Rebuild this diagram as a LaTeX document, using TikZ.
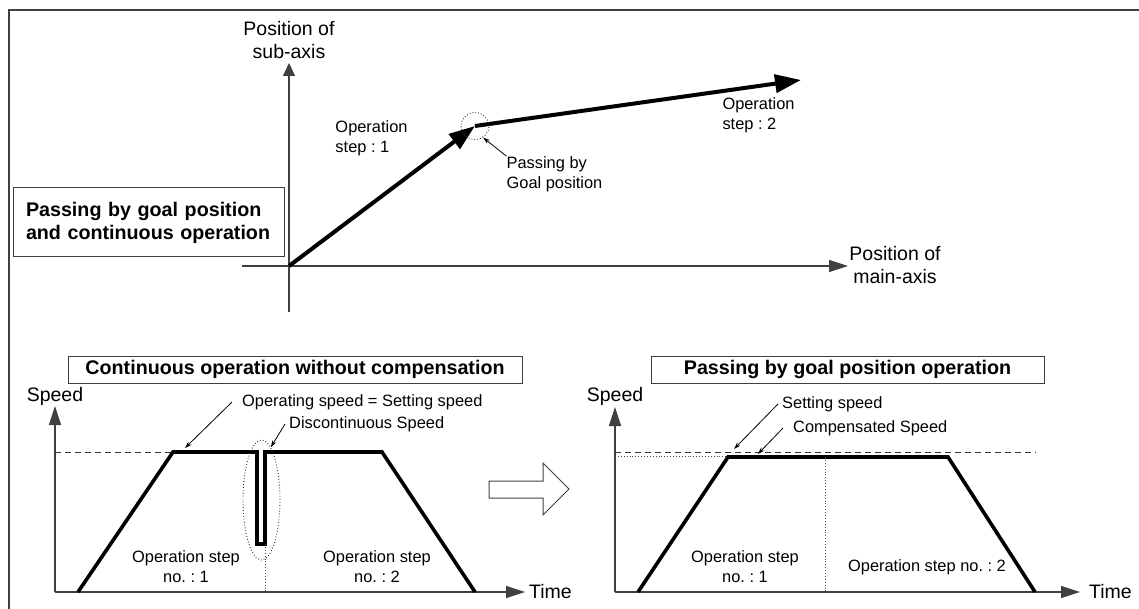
\documentclass[tikz,border=0pt]{standalone}
\usepackage{fontspec}
\setmainfont{Liberation Sans}
\usetikzlibrary{arrows.meta,positioning,shapes.geometric}
\frenchspacing

\begin{document}
\begin{tikzpicture}[
  x=1pt,y=-1pt,
  lbl/.style={font=\fontsize{16.4}{20}\selectfont,inner sep=0pt,align=center},
  biglbl/.style={font=\fontsize{19.5}{23}\selectfont,inner sep=0pt,align=center},
  titlebox/.style={draw=black!75,line width=1pt,font=\bfseries\fontsize{19.7}{23}\selectfont,
    minimum height=27pt,inner sep=0pt},
  axisarr/.style={draw=black!75,line width=1.2pt,-{Triangle[length=19pt,width=12pt]}},
  profile/.style={line width=3.6pt,line join=miter},
  stepline/.style={line width=4pt,-{Triangle[length=26pt,width=18pt]}},
  note/.style={line width=.8pt,-{Stealth[length=7pt,width=4.5pt]}},
  guide/.style={black!70,line width=.9pt,dotted},
  level/.style={black!80,line width=1pt,dash pattern=on 6pt off 4pt},
  ring/.style={ellipse,draw=black!80,line width=.9pt,dotted,inner sep=0pt}
]
\useasboundingbox (0,0) rectangle (1139,609);
\draw[black!75,line width=1.2pt] (9,609) |- (1139,10);

% position chart
\coordinate (org) at (289,266);
\coordinate (subS) at (289,312);
\coordinate (subE) at (289,63);
\coordinate (mainS) at (242,266);
\coordinate (mainE) at (848,266);
\coordinate (goal) at (475,126);
\coordinate (end2) at (801,80);
\draw[axisarr,-{Triangle[length=13pt,width=12pt]}] (subS) -- (subE);
\draw[axisarr] (mainS) -- (mainE);
\node[biglbl] (suby) at (289,40.5) {Position of\\sub-axis};
\node[biglbl] (mainx) at (895,265.5) {Position of\\main-axis};
\draw[stepline] (org) -- (goal);
\draw[stepline] (goal) -- (end2);
\node[ring,minimum width=28pt,minimum height=27pt] (gring) at (goal) {};
\node[lbl,align=left] (st1) at (371.5,138) {Operation\\step : 1};
\node[lbl,align=left] (st2) at (758.5,115) {Operation\\step : 2};
\node[lbl,align=left] (pass) at (554.5,174) {Passing by\\Goal position};
\draw[note] (pass.north west) -- (gring.-55);
\node[draw=black!75,line width=1pt,font=\bfseries\fontsize{19.7}{23}\selectfont,align=left,
  text width=245pt,inner xsep=13pt,minimum height=69pt] (mode) at (148.5,222.5)
  {Passing by goal position\\and continuous operation};

% speed chart without compensation
\coordinate (o1) at (55,592);
\coordinate (v1) at (55,406);
\coordinate (t1) at (525,592);
\node[titlebox,minimum width=454pt] (ttl1) at (295,369.5) {Continuous operation without compensation};
\draw[axisarr] (o1) -- (v1);
\draw[axisarr] (o1) -- (t1);
\node[biglbl] (spd1) at (55,396) {Speed};
\node[biglbl,anchor=west] (tim1) at (529,592) {Time};
\draw[level] (o1 |- 0,452) -- (173,452);
\draw[profile] (78,592) -- (173,452) -- (257,452) -- (257,544) -- (265,544) -- (265,452)
  -- (382,452) -- (475,592);
\draw[guide] (265,544) -- (265,592);
\node[ring,minimum width=37pt,minimum height=120pt] (notch) at (261.5,500) {};
\node[lbl,anchor=west] (opspd) at (242,402) {Operating speed = Setting speed};
\node[lbl,anchor=west] (disc) at (289,424) {Discontinuous Speed};
\coordinate (flat1) at (185,448);
\draw[note] ([xshift=-10pt]opspd.west) -- (flat1);
\draw[note] ([xshift=-4pt]disc.west) -- (notch.80);
\node[lbl] (s1a) at (186,567) {Operation step\\no. : 1};
\node[lbl] (s1b) at (377,567) {Operation step\\no. : 2};

\draw[black!75,line width=1pt] (489,481) -- (543,481) -- (543,463) -- (569,489) -- (543,515)
  -- (543,498) -- (489,498) -- cycle;

% speed chart passing by goal position
\coordinate (o2) at (615,592);
\coordinate (v2) at (615,407);
\coordinate (t2) at (1080,592);
\node[titlebox,minimum width=393pt] (ttl2) at (847.5,369.5) {Passing by goal position operation};
\draw[axisarr] (o2) -- (v2);
\draw[axisarr] (o2) -- (t2);
\node[biglbl] (spd2) at (615,396) {Speed};
\node[biglbl,anchor=west] (tim2) at (1089,592) {Time};
\draw[level] (615,452) -- (1036,452);
\draw[guide] (615,456) -- (728,456);
\draw[profile] (638,592) -- (728,457) -- (948,457) -- (1035,592);
\draw[guide] (825,457) -- (825,592);
\node[lbl,anchor=west] (setspd) at (782,404) {Setting speed};
\node[lbl,anchor=west] (cmpspd) at (793,428) {Compensated Speed};
\coordinate (set2) at (734,449);
\coordinate (cmp2) at (758,454);
\draw[note] ([xshift=-4pt]setspd.west) -- (set2);
\draw[note] ([xshift=-10pt]cmpspd.west) -- (cmp2);
\node[lbl] (s2a) at (745,567) {Operation step\\no. : 1};
\node[lbl] (s2b) at (927,567) {Operation step no. : 2};
\end{tikzpicture}
\end{document}
